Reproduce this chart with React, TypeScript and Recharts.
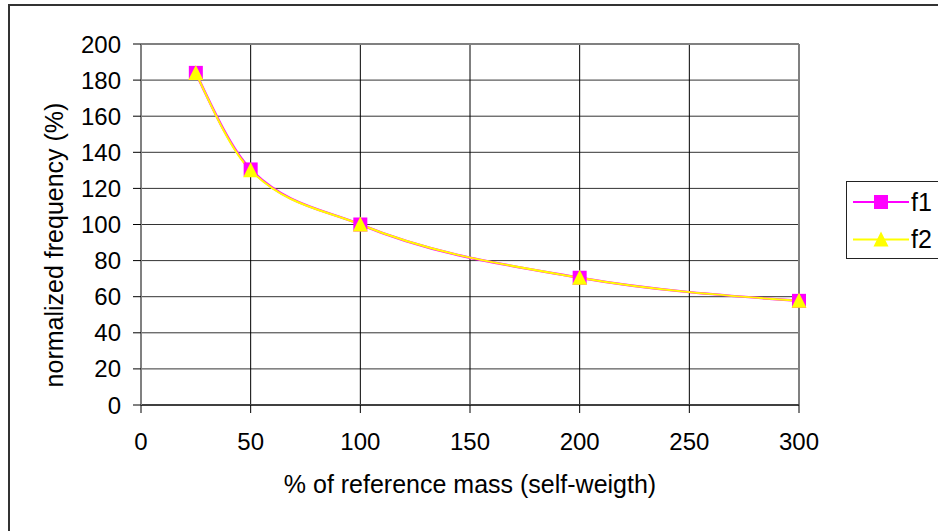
import React from 'react';
import { LineChart, Line, XAxis, YAxis, CartesianGrid, ReferenceLine, Label } from 'recharts';

// % of reference mass (self-weight) on the x axis
const massPct = [25, 50, 100, 200, 300];
// normalized frequencies (%) of the first two modes
const f1Values = [184, 130.5, 100, 70.5, 57.7];
const f2Values = [184, 130, 100, 70.5, 57.7];

const xTicks = [0, 50, 100, 150, 200, 250, 300];
const yTicks = [0, 20, 40, 60, 80, 100, 120, 140, 160, 180, 200];

const seriesNames = ['f1', 'f2'];
const MAGENTA = '#ff00ff';
const YELLOW = '#ffff00';
const FONT = '"Liberation Sans", Arial, sans-serif';
const TICK_SIZE = 24;
const TITLE_SIZE = 25;

const data = massPct.map((m, i) => ({ mass: m, f1: f1Values[i], f2: f2Values[i] }));

function SquareDot(props: any) {
  const { cx, cy } = props;
  if (cx == null || cy == null) return null;
  return <rect x={cx - 7} y={cy - 7} width={14} height={14} fill={MAGENTA} />;
}

function TriangleDot(props: any) {
  const { cx, cy } = props;
  if (cx == null || cy == null) return null;
  return <polygon points={`${cx},${cy - 8} ${cx + 7.5},${cy + 7} ${cx - 7.5},${cy + 7}`} fill={YELLOW} />;
}

function LegendBox() {
  return (
    <div
      style={{
        position: 'absolute',
        left: 846,
        top: 181,
        width: 120,
        height: 76,
        border: '1.5px solid #222',
        background: '#fff',
      }}
    >
      <svg width={120} height={76} style={{ display: 'block' }}>
        {seriesNames.map((name, i) => {
          const y = 20 + i * 37.5;
          const color = i === 0 ? MAGENTA : YELLOW;
          return (
            <g key={name}>
              <line x1={6} x2={62} y1={y} y2={y} stroke={color} strokeWidth={2} />
              {i === 0 ? (
                <rect x={27} y={y - 7} width={14} height={14} fill={color} />
              ) : (
                <polygon points={`34,${y - 8} 41.5,${y + 7} 26.5,${y + 7}`} fill={color} />
              )}
              <text x={64} y={y + 8.5} fill="#000" fontSize={TITLE_SIZE} fontFamily={FONT}>
                {name}
              </text>
            </g>
          );
        })}
      </svg>
    </div>
  );
}

export default function App() {
  return (
    <div
      style={{
        position: 'fixed',
        left: 0,
        top: 0,
        width: 938,
        height: 531,
        overflow: 'hidden',
        background: '#fff',
      }}
    >
      <div
        style={{
          position: 'absolute',
          left: 8,
          top: 4,
          width: 1000,
          height: 600,
          border: '2px solid #333',
        }}
      />
      <div style={{ position: 'absolute', left: 0, top: 0 }}>
        <LineChart
          width={938}
          height={531}
          data={data}
          margin={{ top: 44, right: 139, left: 0, bottom: 0 }}
          style={{ fontFamily: FONT }}
        >
          <CartesianGrid vertical={false} stroke="#333" strokeWidth={1} />
          <CartesianGrid horizontal={false} stroke="#000" strokeWidth={1} />
          <XAxis
            dataKey="mass"
            type="number"
            domain={[0, 300]}
            ticks={xTicks}
            interval={0}
            height={126}
            tickSize={8}
            tickMargin={20}
            stroke="#333"
            axisLine={{ stroke: '#404040', strokeWidth: 2 }}
            tickLine={{ stroke: '#000' }}
            tick={{ fill: '#000', fontSize: TICK_SIZE, fontFamily: FONT }}
          >
            <Label
              content={() => (
                <text x={470} y={493} textAnchor="middle" fill="#000" fontSize={TITLE_SIZE} fontFamily={FONT}>
                  % of reference mass (self-weigth)
                </text>
              )}
            />
          </XAxis>
          <YAxis
            type="number"
            domain={[0, 200]}
            ticks={yTicks}
            interval={0}
            width={141}
            tickSize={8}
            tickMargin={12}
            axisLine={{ stroke: '#808080', strokeWidth: 2 }}
            tickLine={{ stroke: '#000' }}
            tick={{ fill: '#000', fontSize: TICK_SIZE, fontFamily: FONT }}
          >
            <Label
              content={() => (
                <text
                  x={63}
                  y={245}
                  transform="rotate(-90, 63, 245)"
                  textAnchor="middle"
                  fill="#000"
                  fontSize={TITLE_SIZE}
                  fontFamily={FONT}
                >
                  normalized frequency (%)
                </text>
              )}
            />
          </YAxis>
          <ReferenceLine y={200} stroke="#808080" strokeWidth={2} />
          <ReferenceLine x={300} stroke="#808080" strokeWidth={2} />
          <Line
            dataKey="f1"
            name="f1"
            type="monotone"
            stroke={MAGENTA}
            strokeWidth={2.5}
            dot={<SquareDot />}
            activeDot={false}
            isAnimationActive={false}
          />
          <Line
            dataKey="f2"
            name="f2"
            type="monotone"
            stroke={YELLOW}
            strokeWidth={2}
            dot={<TriangleDot />}
            activeDot={false}
            isAnimationActive={false}
          />
        </LineChart>
      </div>
      <LegendBox />
    </div>
  );
}
